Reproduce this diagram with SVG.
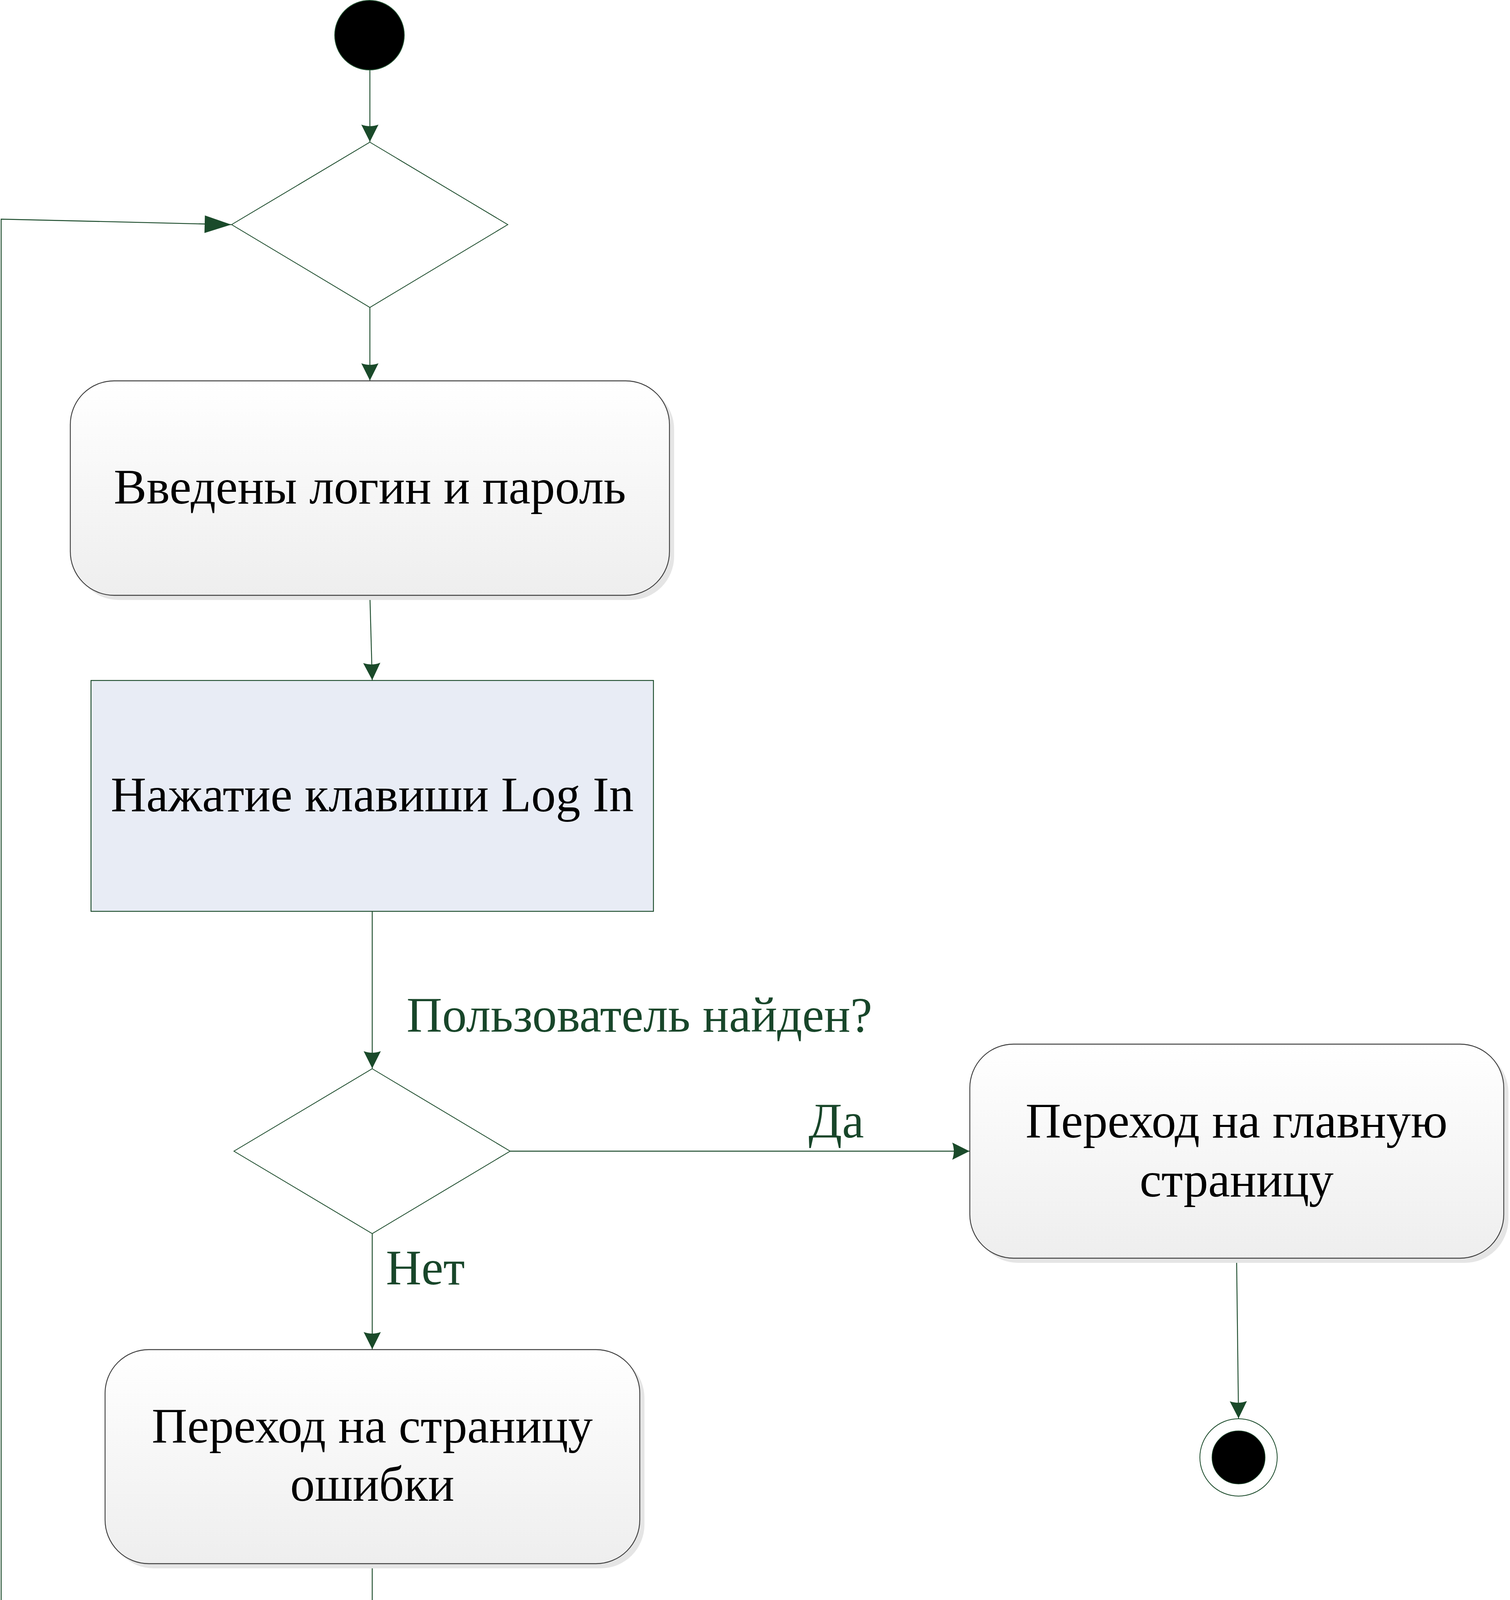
<svg xmlns="http://www.w3.org/2000/svg" width="3866" height="5286" viewBox="0 0 3866 5286">
<style>
  .conn { fill: none; stroke: #1a4a2a; stroke-width: 2.3; }
  .dec { fill: #ffffff; stroke: #1a4a2a; stroke-width: 2; }
  .act { fill: url(#g); stroke: #404040; stroke-width: 2.3; }
  .shadow { fill: #e5e5e5; stroke: none; }
  .evt { fill: #e8ecf5; stroke: #1a4a2a; stroke-width: 2.3; }
  .t { font-family: "Liberation Serif", "Times New Roman", serif; font-size: 126px; fill: #000000; text-anchor: middle; }
  .lbl { font-family: "Liberation Serif", "Times New Roman", serif; font-size: 126px; fill: #18462a; }
</style>
<defs>
  <linearGradient id="g" x1="0" y1="0" x2="0" y2="1">
    <stop offset="0" stop-color="#ffffff"/>
    <stop offset="1" stop-color="#eeeeee"/>
  </linearGradient>
  <marker id="arr" markerUnits="userSpaceOnUse" orient="auto" refX="0" refY="0" markerWidth="60" markerHeight="60" overflow="visible">
    <path d="M0,0 L-44,-22 Q-36,0 -44,22 Z" fill="#1a4a2a"/>
  </marker>
  <marker id="arrBig" markerUnits="userSpaceOnUse" orient="auto" refX="0" refY="0" markerWidth="80" markerHeight="60" overflow="visible">
    <path d="M0,0 L-68,-22 L-68,23 Z" fill="#1a4a2a"/>
  </marker>
</defs>
<rect x="0" y="0" width="3866" height="5286" fill="#ffffff"/>

<g id="connectors">
  <path class="conn" d="M947,180 L947,363" marker-end="url(#arr)"/>
  <path class="conn" d="M947,787 L947,974" marker-end="url(#arr)"/>
  <path class="conn" d="M947,1524 L953,1741" marker-end="url(#arr)"/>
  <path class="conn" d="M953,2333 L953,2735" marker-end="url(#arr)"/>
  <path class="conn" d="M1306,2947 L2482,2947" marker-end="url(#arr)"/>
  <path class="conn" d="M953,3158 L953,3454" marker-end="url(#arr)"/>
  <path class="conn" d="M3166,3222 L3171,3631" marker-end="url(#arr)"/>
  <path class="conn" d="M953,4004 L953,4278" marker-end="url(#arr)"/>
  <path class="conn" d="M953,4871 L953,5283 L3,5283 L3,561 L592,575" marker-end="url(#arrBig)"/>
  <text class="lbl" x="1041" y="2641">Пользователь найден?</text>
  <text class="lbl" x="2070" y="2912">Да</text>
  <text class="lbl" x="988" y="3288">Нет</text>
</g>

<g id="start">
  <circle cx="946" cy="90" r="89" fill="#000000" stroke="#1a4a2a" stroke-width="2"/>
</g>

<g id="decision1">
  <polygon class="dec" points="947,364 1300,575 947,787 593,575"/>
</g>

<g id="login-entered">
  <rect class="shadow" x="192" y="987" width="1534" height="549" rx="112" ry="112"/>
  <rect class="act" x="180" y="975" width="1534" height="549" rx="112" ry="112"/>
  <text class="t" x="947" y="1289">Введены логин и пароль</text>
</g>

<g id="press-login">
  <rect class="evt" x="233" y="1742" width="1440" height="591"/>
  <text class="t" x="953" y="2077">Нажатие клавиши Log In</text>
</g>

<g id="decision2">
  <polygon class="dec" points="953,2736 1306,2947 953,3158 599,2947"/>
</g>

<g id="main-page">
  <rect class="shadow" x="2495" y="2685" width="1367" height="548" rx="112" ry="112"/>
  <rect class="act" x="2483" y="2673" width="1367" height="548" rx="112" ry="112"/>
  <text class="t" x="3166" y="2912">Переход на главную</text>
  <text class="t" x="3166" y="3063">страницу</text>
</g>

<g id="end">
  <circle cx="3171" cy="3731" r="99" fill="#ffffff" stroke="#1a4a2a" stroke-width="2"/>
  <circle cx="3171" cy="3731" r="68" fill="#000000" stroke="#1a4a2a" stroke-width="1.5"/>
</g>

<g id="error-page">
  <rect class="shadow" x="281" y="3467" width="1369" height="548" rx="112" ry="112"/>
  <rect class="act" x="269" y="3455" width="1369" height="548" rx="112" ry="112"/>
  <text class="t" x="953" y="3693">Переход на страницу</text>
  <text class="t" x="953" y="3842">ошибки</text>
</g>

<g id="press-back">
  <rect class="evt" x="233" y="4279" width="1440" height="592"/>
  <text class="t" x="953" y="4614">Нажатие клавиши Back</text>
</g>
</svg>
